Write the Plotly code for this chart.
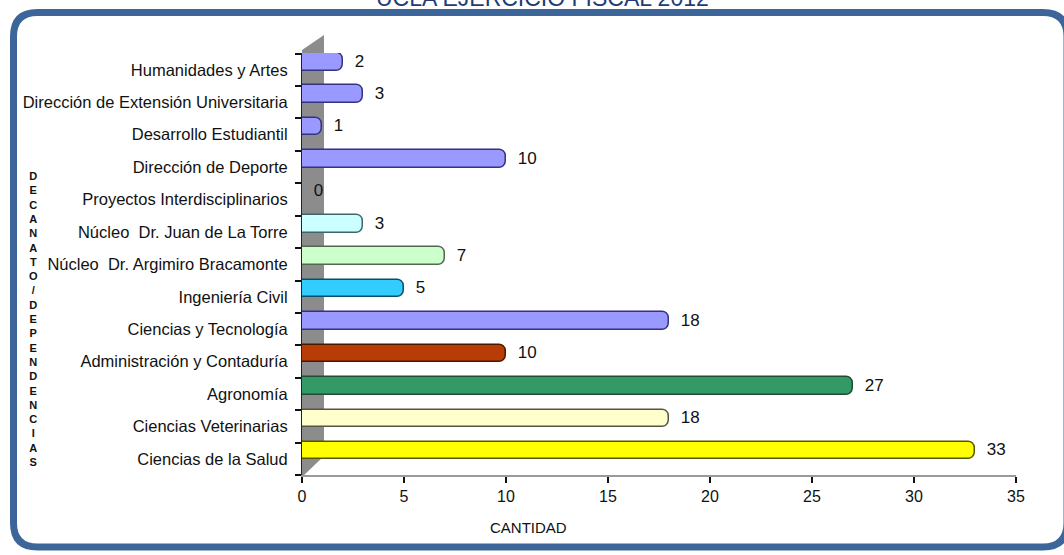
import plotly.graph_objects as go

# ---- data (bottom to top) ----
categories = [
    "Ciencias de la Salud",
    "Ciencias Veterinarias",
    "Agronomía",
    "Administración y Contaduría",
    "Ciencias y Tecnología",
    "Ingeniería Civil",
    "Núcleo  Dr. Argimiro Bracamonte",
    "Núcleo  Dr. Juan de La Torre",
    "Proyectos Interdisciplinarios",
    "Dirección de Deporte",
    "Desarrollo Estudiantil",
    "Dirección de Extensión Universitaria",
    "Humanidades y Artes",
]
values = [33, 18, 27, 10, 18, 5, 7, 3, 0, 10, 1, 3, 2]
bar_colors = ["#FFFF00", "#FFFFCC", "#339966", "#B83C05", "#9999FF", "#33CCFF",
              "#CCFFCC", "#CCFFFF", "#9999FF", "#9999FF", "#9999FF", "#9999FF", "#9999FF"]
line_colors = ["#555500", "#555544", "#1E4D33", "#4A1800", "#333380", "#0B4F66",
               "#4F6A4F", "#3D6666", "#333380", "#333380", "#333380", "#333380", "#333380"]
x_ticks = [0, 5, 10, 15, 20, 25, 30, 35]
title_text = "UCLA EJERCICIO FISCAL 2012"
y_title = "DECANATO/DEPENDENCIAS"
x_title = "CANTIDAD"

# ---- layout geometry (pixels) ----
W, H = 1064, 555
L, R, T, B = 302, 48, 53, 80
PW, PH = W - L - R, H - T - B


def px(x):
    return (x - L) / PW


def py(y):
    return (H - B - y) / PH


FONT = "Arial, Liberation Sans, sans-serif"

fig = go.Figure()
fig.add_trace(go.Bar(
    y=categories,
    x=values,
    orientation="h",
    width=0.54,
    offset=-0.02,
    marker=dict(color=bar_colors, line=dict(color=line_colors, width=1.5), cornerradius=7),
    texttemplate="\u00a0\u00a0%{x}",
    textposition="outside",
    constraintext="none",
    textfont=dict(family=FONT, size=17, color="#111111"),
    cliponaxis=False,
    hoverinfo="x+y",
    showlegend=False,
))

# frame
fx0, fy0, fx1, fy1, rr = 13.5, 12.5, 1067, 547, 24
frame_path = (
    f"M {px(fx0 + rr)} {py(fy0)} L {px(fx1 - rr)} {py(fy0)} "
    f"Q {px(fx1)} {py(fy0)} {px(fx1)} {py(fy0 + rr)} "
    f"L {px(fx1)} {py(fy1 - rr)} Q {px(fx1)} {py(fy1)} {px(fx1 - rr)} {py(fy1)} "
    f"L {px(fx0 + rr)} {py(fy1)} Q {px(fx0)} {py(fy1)} {px(fx0)} {py(fy1 - rr)} "
    f"L {px(fx0)} {py(fy0 + rr)} Q {px(fx0)} {py(fy0)} {px(fx0 + rr)} {py(fy0)} Z"
)
wall_path = (
    f"M {px(302)} {py(477)} L {px(302)} {py(50)} L {px(324)} {py(35)} "
    f"L {px(324)} {py(456)} Z"
)
fig.update_layout(
    shapes=[
        dict(type="path", xref="paper", yref="paper", path=wall_path,
             fillcolor="#8C8C8C", line=dict(width=0), layer="below"),
        dict(type="path", xref="paper", yref="paper", path=frame_path,
             fillcolor="rgba(0,0,0,0)", line=dict(color="#3C6699", width=7), layer="above"),
    ]
)

fig.add_annotation(
    x=px(542), y=py(13), xref="paper", yref="paper", xanchor="center", yanchor="bottom",
    text=title_text, showarrow=False,
    font=dict(family=FONT, size=23, color="#1F3C78"),
)
fig.add_annotation(
    x=px(33), y=py(319), xref="paper", yref="paper", xanchor="center", yanchor="middle",
    text="<br>".join("<b>" + ch + "</b>" for ch in y_title), showarrow=False,
    font=dict(family=FONT, size=11, color="#111111"),
)
fig.add_annotation(
    x=px(528), y=py(527), xref="paper", yref="paper", xanchor="center", yanchor="middle",
    text=x_title, showarrow=False,
    font=dict(family=FONT, size=15, color="#111111"),
)

fig.update_layout(
    width=W, height=H,
    margin=dict(l=L, r=R, t=T, b=B, autoexpand=False),
    paper_bgcolor="white", plot_bgcolor="white",
    bargap=0,
    xaxis=dict(
        range=[0, 35], tickvals=x_ticks, showgrid=False, zeroline=False,
        showline=True, linecolor="#9A9A9A", linewidth=2,
        ticks="outside", ticklen=6, tickwidth=2, tickcolor="#111111",
        tickfont=dict(family=FONT, size=16, color="#111111"),
        fixedrange=True,
    ),
    yaxis=dict(
        type="category", categoryorder="array", categoryarray=categories,
        showgrid=False, zeroline=False,
        showline=True, linecolor="#222222", linewidth=1,
        ticks="outside", ticklen=6, tickwidth=2, tickcolor="#111111",
        tickson="boundaries", ticklabelstandoff=10,
        tickfont=dict(family=FONT, size=16.5, color="#111111"),
        fixedrange=True,
    ),
)

fig.write_html(
    "out.html",
    config={"displayModeBar": False},
    post_script="document.body.style.margin='0px';",
)
